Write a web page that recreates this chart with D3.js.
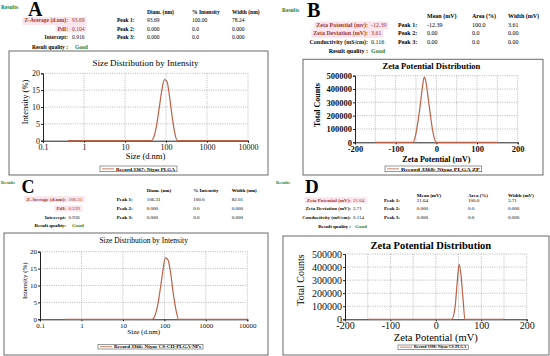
<!DOCTYPE html>
<html><head><meta charset="utf-8">
<script src="https://cdn.jsdelivr.net/npm/d3@7"></script>
<style>body{margin:0;background:#fff} svg{display:block} text{font-family:'Liberation Serif','Times New Roman',serif}</style>
</head><body><div id="fig"></div>
<script>
// size distributions (nm vs intensity %)
var sizeA = [0.4, 43.8, 50.7, 58.8, 68.1, 78.8, 91.3, 105.7, 122.4, 141.8, 164.2, 190.1, 10000]
var intensityA = [0, 0, 1.2, 4.5, 9.6, 14.8, 18.1, 17.5, 13.0, 7.0, 2.2, 0, 0]
var sizeC = [0.4, 50.7, 58.8, 68.1, 78.8, 91.3, 105.7, 122.4, 141.8, 164.2, 190.1, 220.2, 10000]
var intensityC = [0, 0, 1.0, 3.8, 8.6, 14.0, 18.2, 17.6, 13.6, 7.6, 2.8, 0, 0]
// zeta potential distributions (mV vs counts)
var zetaB = [-150, -57, -52, -46, -40, -34, -30, -26, -20, -14, -8, -1, 150]
var countsB = [0, 0, 40000, 140000, 270000, 420000, 490000, 460000, 330000, 190000, 70000, 0, 0]
var zetaD = [-150, 35, 42, 47, 51, 55, 60, 64, 150]
var countsD = [0, 0, 85000, 280000, 420000, 350000, 150000, 0, 0]

var sizeTicks = [0.1, 1, 10, 100, 1000, 10000]
var intensityTicks = [0, 5, 10, 15, 20]
var zetaTicks = [-200, -100, 0, 100, 200]
var zetaGrid = [-150, -100, -50, 0, 50, 100, 150, 200]
var countTicks = [0, 100000, 200000, 300000, 400000, 500000]

// result tables
var headSize = ['Diam. (nm)', '% Intensity', 'Width (nm)']
var headZeta = ['Mean (mV)', 'Area (%)', 'Width (mV)']
var labelsA = ['Z-Average (d.nm):', 'PdI:', 'Intercept:']
var valuesA = ['93.69', '0.104', '0.916']
var peaksA = [['93.69', '100.00', '78.24'], ['0.000', '0.0', '0.000'], ['0.000', '0.0', '0.000']]
var labelsB = ['Zeta Potential (mv):', 'Zeta Deviation (mV):', 'Conductivity (mS/cm):']
var valuesB = ['-12.39', '3.61', '0.116']
var peaksB = [['-12.39', '100.0', '3.61'], ['0.00', '0.0', '0.00'], ['0.00', '0.0', '0.00']]
var labelsC = ['Z-Average (d.nm):', 'PdI:', 'Intercept:']
var valuesC = ['106.31', '0.239', '0.936']
var peaksC = [['106.31', '100.0', '82.01'], ['0.000', '0.0', '0.000'], ['0.000', '0.0', '0.000']]
var labelsD = ['Zeta Potential (mV):', 'Zeta Deviation (mV):', 'Conductivity (mS/cm):']
var valuesD = ['21.64', '3.71', '0.114']
var peaksD = [['21.64', '100.0', '3.71'], ['0.000', '0.0', '0.000'], ['0.000', '0.0', '0.000']]

var FONT = "'Liberation Serif', 'Times New Roman', serif"
var green = '#2b7d2b'
var red = '#a33a2c'
var curveColor = '#bb6248'

var svg = d3.select('#fig').append('svg')
  .attr('width', 550).attr('height', 356)
  .attr('font-family', FONT)
svg.append('rect').attr('width', 550).attr('height', 356).attr('fill', '#fff')

var panels = [
  { letter: 'A', res: [1, 9, 5.5], let: [28, 16, 20], fs: 5.5,
    headY: 14.4, rowY: [22.4, 30.7, 39.4], rqY: 49.4, lx: 68, vx: 72, px: 117, cols: [147, 192, 232], gx: 75,
    head: headSize, labels: labelsA, values: valuesA, peaks: peaksA, red: [1, 1, 0], rq: 'Result quality :',
    box: [9, 51, 268, 175], plot: [43, 73.3, 248, 140.7], log: true, xs: sizeA, ys: intensityA,
    tickFs: 8, tickW: 'normal', tickPad: 2, title: 'Size Distribution by Intensity', titleY: 66, titleFs: 9, titleW: 'normal',
    xlab: 'Size (d.nm)', xlabY: 158.5, xlabFs: 8.5, ylab: 'Intensity (%)', ylabX: 27.8, ylabY: 102, ylabFs: 8.5, labW: 'normal',
    leg: [100, 166, 177, 171.7], legText: 'Record 3367: Niyaz PLGA' },
  { letter: 'B', res: [282, 12, 5.5], let: [307, 17, 20], fs: 6,
    headY: 18, rowY: [27, 35.3, 43.7], rqY: 53, lx: 368, vx: 371, px: 398, cols: [427, 472, 508], gx: 371,
    head: headZeta, labels: labelsB, values: valuesB, peaks: peaksB, red: [1, 1, 0], rq: 'Result quality :',
    box: [303, 59.3, 543, 175], plot: [355, 75.7, 517.7, 142.3], log: false, xs: zetaB, ys: countsB,
    tickFs: 8.5, tickW: 'bold', tickPad: 1.5, title: 'Zeta Potential Distribution', titleY: 68.5, titleFs: 8.5, titleW: 'bold',
    xlab: 'Zeta Potential (mV)', xlabY: 162, xlabFs: 8, ylab: 'Total Counts', ylabX: 319.5, ylabY: 105, ylabFs: 8, labW: 'bold',
    leg: [385, 166, 481.7, 171.7], legText: 'Record 3368: Niyaz PLGA ZP' },
  { letter: 'C', res: [1, 184, 4.5], let: [21.5, 193.3, 18], fs: 5,
    headY: 191.7, rowY: [200.7, 210, 219], rqY: 227.4, lx: 66, vx: 68.5, px: 116.7, cols: [146.7, 193.3, 231.7], gx: 72,
    head: headSize, labels: labelsC, values: valuesC, peaks: peaksC, red: [1, 1, 0], rq: 'Result quality:',
    box: [4, 233, 268, 355], plot: [40, 251.7, 247.3, 319.3], log: true, xs: sizeC, ys: intensityC,
    tickFs: 7, tickW: 'normal', tickPad: 2, title: 'Size Distribution by Intensity', titleY: 242.5, titleFs: 7.5, titleW: 'normal',
    xlab: 'Size (d.nm)', xlabY: 334, xlabFs: 7, ylab: 'Intensity (%)', ylabX: 27, ylabY: 280.7, ylabFs: 7, labW: 'normal',
    leg: [98, 344.3, 203, 349], legText: 'Record 3366: Niyaz CS-CH-PLGA-NPs' },
  { letter: 'D', res: [276, 184, 4.5], let: [305, 193.3, 19], fs: 5,
    headY: 197.3, rowY: [201.7, 210, 219], rqY: 228.4, lx: 351, vx: 353, px: 384, cols: [416.7, 468, 508], gx: 355,
    head: headZeta, labels: labelsD, values: valuesD, peaks: peaksD, red: [1, 0, 0], rq: 'Result quality :',
    box: [283, 236, 549, 355], plot: [345, 254, 526.7, 319.3], log: false, xs: zetaD, ys: countsD,
    tickFs: 10, tickW: 'normal', tickPad: 1, title: 'Zeta Potential Distribution', titleY: 249, titleFs: 10.5, titleW: 'bold',
    xlab: 'Zeta Potential (mV)', xlabY: 340.5, xlabFs: 10.5, ylab: 'Total Counts', ylabX: 303.5, ylabY: 280, ylabFs: 10, labW: 'normal',
    leg: [398, 345, 468.3, 349.3], legText: 'Record 3398: Niyaz CS-PLGA' }
]

panels.forEach(function(p) {
  drawTable(p)
  drawChart(p)
})

function txt(g, x, y, size, s) {
  return g.append('text').attr('x', x).attr('y', y).attr('font-size', size)
    .attr('font-family', FONT).text(s)
}

function drawTable(p) {
  var g = svg.append('g')
  txt(g, p.res[0], p.res[1], p.res[2], 'Results').attr('font-weight', 'bold').attr('fill', green)
  txt(g, p.let[0], p.let[1], p.let[2], p.letter).attr('font-weight', 'bold')
  p.head.forEach(function(h, i) {
    txt(g, p.cols[i], p.headY, p.fs, h).attr('font-weight', 'bold')
  })
  p.labels.forEach(function(l, i) {
    var hl = g.append('rect')
    var col = p.red[i] ? red : '#111'
    var t1 = txt(g, p.lx, p.rowY[i], p.fs, l).attr('text-anchor', 'end')
      .attr('font-weight', 'bold').attr('fill', col)
    var t2 = txt(g, p.vx, p.rowY[i], p.fs, p.values[i]).attr('fill', col)
    if (p.red[i]) {
      var b1 = t1.node().getBBox(), b2 = t2.node().getBBox()
      hl.attr('x', b1.x - 2).attr('y', b1.y - 0.5).attr('width', b2.x + b2.width - b1.x + 4)
        .attr('height', b1.height + 1).attr('fill', '#fbe4ec')
    }
    txt(g, p.px, p.rowY[i], p.fs, 'Peak ' + (i + 1) + ':').attr('font-weight', 'bold')
    p.peaks[i].forEach(function(v, j) {
      txt(g, p.cols[j], p.rowY[i], p.fs, v)
    })
  })
  txt(g, p.lx, p.rqY, p.fs, p.rq).attr('text-anchor', 'end').attr('font-weight', 'bold')
  txt(g, p.gx, p.rqY, p.fs, 'Good').attr('font-weight', 'bold').attr('fill', green)
}

function drawChart(p) {
  var g = svg.append('g')
  var x = p.log ? d3.scaleLog().domain([0.1, 10000]) : d3.scaleLinear().domain([-200, 200])
  x.range([p.plot[0], p.plot[2]])
  var yTicks = p.log ? intensityTicks : countTicks
  var y = d3.scaleLinear().domain([0, yTicks[yTicks.length - 1]]).range([p.plot[3], p.plot[1]])

  g.append('rect').attr('x', p.box[0]).attr('y', p.box[1])
    .attr('width', p.box[2] - p.box[0]).attr('height', p.box[3] - p.box[1])
    .attr('fill', 'none').attr('stroke', '#6a6a6a').attr('stroke-width', 1)

  var gridX = p.log ? sizeTicks.slice(1) : zetaGrid
  g.selectAll('.gx').data(gridX).enter().append('line')
    .attr('x1', function(d) { return x(d) }).attr('x2', function(d) { return x(d) })
    .attr('y1', p.plot[1]).attr('y2', p.plot[3])
    .attr('stroke', '#888').attr('stroke-width', 0.6).attr('stroke-dasharray', '1,1.3')
  g.selectAll('.gy').data(yTicks.slice(1)).enter().append('line')
    .attr('x1', p.plot[0]).attr('x2', p.plot[2])
    .attr('y1', function(d) { return y(d) }).attr('y2', function(d) { return y(d) })
    .attr('stroke', '#888').attr('stroke-width', 0.6).attr('stroke-dasharray', '1,1.3')

  var xAxis = g.append('g').attr('transform', 'translate(0,' + p.plot[3] + ')')
    .call(d3.axisBottom(x).tickValues(p.log ? sizeTicks : zetaTicks)
      .tickFormat(function(d) { return String(d) }).tickSize(2).tickPadding(p.tickPad))
  var yAxis = g.append('g').attr('transform', 'translate(' + p.plot[0] + ',0)')
    .call(d3.axisLeft(y).tickValues(yTicks)
      .tickFormat(function(d) { return String(d) }).tickSize(2).tickPadding(1))
  ;[xAxis, yAxis].forEach(function(a) {
    a.attr('font-family', FONT).attr('font-size', p.tickFs)
    a.selectAll('text').attr('font-size', p.tickFs).attr('font-weight', p.tickW)
      .attr('fill', '#111').attr('font-family', FONT)
    a.select('.domain').attr('stroke', '#222')
    a.selectAll('.tick line').attr('stroke', '#222')
  })

  var line = d3.line().curve(d3.curveMonotoneX)
    .x(function(d) { return x(d[0]) }).y(function(d) { return y(d[1]) })
  g.append('path').attr('d', line(d3.zip(p.xs, p.ys)))
    .attr('fill', 'none').attr('stroke', curveColor).attr('stroke-width', 1.2)

  txt(g, (p.plot[0] + p.plot[2]) / 2 + (p.log ? 0 : -5), p.titleY, p.titleFs, p.title)
    .attr('text-anchor', 'middle').attr('font-weight', p.titleW)
  txt(g, (p.plot[0] + p.plot[2]) / 2, p.xlabY, p.xlabFs, p.xlab)
    .attr('text-anchor', 'middle').attr('font-weight', p.labW)
  txt(g, 0, 0, p.ylabFs, p.ylab)
    .attr('transform', 'translate(' + p.ylabX + ',' + p.ylabY + ') rotate(-90)')
    .attr('text-anchor', 'middle').attr('font-weight', p.labW)

  var L = p.leg
  g.append('rect').attr('x', L[0]).attr('y', L[1]).attr('width', L[2] - L[0]).attr('height', L[3] - L[1])
    .attr('fill', '#fff').attr('stroke', '#555').attr('stroke-width', 0.6)
  g.append('line').attr('x1', L[0] + 2).attr('x2', L[0] + 14)
    .attr('y1', (L[1] + L[3]) / 2).attr('y2', (L[1] + L[3]) / 2)
    .attr('stroke', curveColor).attr('stroke-width', 0.8)
  txt(g, L[0] + 16, L[3] - 1.2, (L[3] - L[1]) * 0.8, p.legText).attr('font-weight', 'bold')
    .attr('textLength', L[2] - L[0] - 18).attr('lengthAdjust', 'spacingAndGlyphs')
}
</script>
</body></html>
